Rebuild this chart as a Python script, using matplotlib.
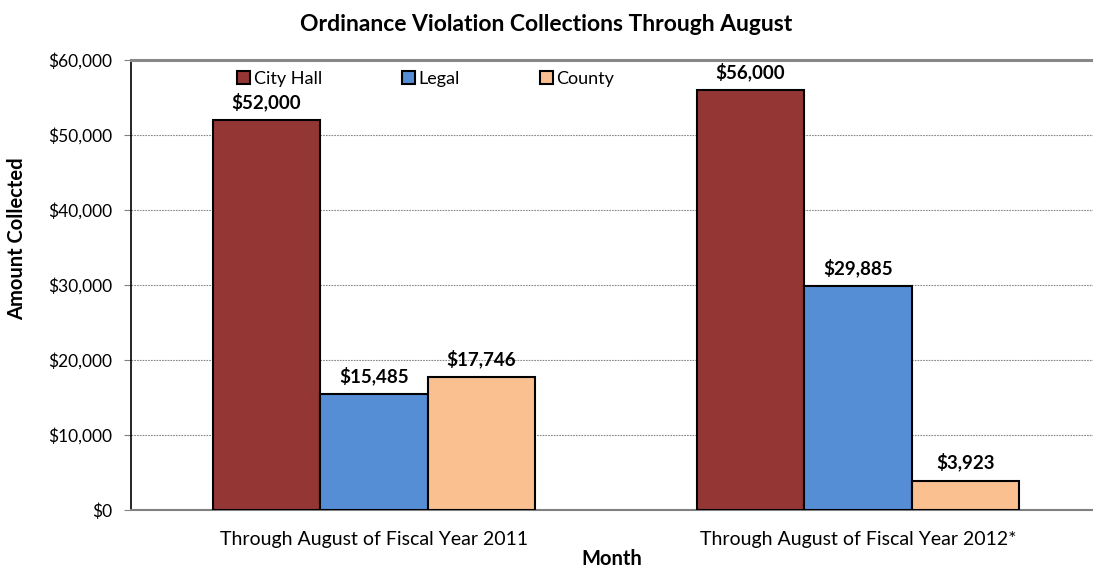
import numpy as np
import matplotlib
matplotlib.use("Agg")
import matplotlib.pyplot as plt
from matplotlib.ticker import FuncFormatter

plt.rcParams['font.family'] = ['Lato', 'DejaVu Sans']

categories = ["Through August of Fiscal Year 2011", "Through August of Fiscal Year 2012*"]
series_names = ["City Hall", "Legal", "County"]
city_hall = [52000, 56000]
legal = [15485, 29885]
county = [17746, 3923]
colors = ["#943634", "#558ED5", "#FAC090"]

fig = plt.figure(figsize=(10.93, 5.68), dpi=100)
ax = fig.add_axes([0.1199, 0.1021, 0.8801, 0.7923])

x = np.arange(len(categories))
width = 0.222
handles = []
for i, (vals, name, col) in enumerate(zip([city_hall, legal, county], series_names, colors)):
    pos = x + (i - 1) * width
    b = ax.bar(pos, vals, width, color=col, edgecolor="black", linewidth=1.5, label=name, zorder=3)
    handles.append(b)
    for p, v in zip(pos, vals):
        ax.text(p, v + 1200, "${:,.0f}".format(v), ha="center", va="bottom",
                fontsize=13.5, fontweight="bold", zorder=4)

ax.set_xlim(-0.502, 1.486)
ax.set_ylim(0, 60000)
ax.set_yticks(np.arange(0, 60001, 10000))
ax.yaxis.set_major_formatter(FuncFormatter(lambda v, p: "${:,.0f}".format(v)))
ax.set_xticks(x)
ax.set_xticklabels(categories)
ax.tick_params(axis="x", length=0, labelsize=14, pad=15)
ax.tick_params(axis="y", length=5, color="#808080", labelsize=12.5, pad=8.5)

ax.grid(axis="y", linestyle=(0, (1.5, 1)), color="#888888", linewidth=0.8, zorder=0)
ax.spines["right"].set_visible(False)
ax.spines["top"].set_color("#888888")
ax.spines["top"].set_linewidth(2.2)
ax.spines["left"].set_color("black")
ax.spines["left"].set_linewidth(1.2)
ax.spines["bottom"].set_color("#808080")
ax.spines["bottom"].set_linewidth(1.5)

ax.set_xlabel("Month", fontsize=14.5, fontweight="bold", labelpad=1)
ax.set_ylabel("Amount Collected", fontsize=14.5, fontweight="bold")
ax.yaxis.set_label_coords(-0.108, 0.604)
fig.suptitle("Ordinance Violation Collections Through August", fontsize=16.5,
             fontweight="bold", y=0.975)

leg = ax.legend(handles=handles, labels=series_names, loc="upper left",
                bbox_to_anchor=(0.0937, 1.012), ncol=3, frameon=False, fontsize=13,
                handlelength=0.7, handleheight=0.7, handletextpad=0.2,
                columnspacing=4.45)

fig.savefig("out.png", dpi=100)
